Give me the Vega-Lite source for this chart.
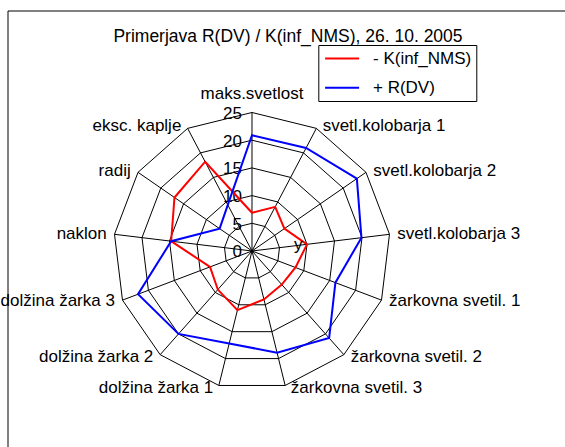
{
  "$schema": "https://vega.github.io/schema/vega-lite/v6.json",
  "width": 557,
  "height": 436,
  "autosize": {"type": "none"},
  "padding": {"left": 8, "top": 11, "right": 0, "bottom": 0},
  "background": "white",
  "config": {"view": {"stroke": null}, "font": "Liberation Sans"},
  "title": {
    "text": "Primerjava R(DV) / K(inf_NMS), 26. 10. 2005",
    "font": "Liberation Sans",
    "fontSize": 17.5,
    "fontWeight": "normal",
    "color": "black",
    "anchor": "middle",
    "baseline": "middle",
    "offset": -25,
    "dy": 19,
    "dx": 1.5
  },
  "datasets": {
    "cats": [
      {"i": 0, "cat": "maks.svetlost", "ring": [5, 10, 15, 20, 25]},
      {"i": 1, "cat": "svetl.kolobarja 1", "ring": [5, 10, 15, 20, 25]},
      {"i": 2, "cat": "svetl.kolobarja 2", "ring": [5, 10, 15, 20, 25]},
      {"i": 3, "cat": "svetl.kolobarja 3", "ring": [5, 10, 15, 20, 25]},
      {"i": 4, "cat": "žarkovna svetil. 1", "ring": [5, 10, 15, 20, 25]},
      {"i": 5, "cat": "žarkovna svetil. 2", "ring": [5, 10, 15, 20, 25]},
      {"i": 6, "cat": "žarkovna svetil. 3", "ring": [5, 10, 15, 20, 25]},
      {"i": 7, "cat": "dolžina žarka 1", "ring": [5, 10, 15, 20, 25]},
      {"i": 8, "cat": "dolžina žarka 2", "ring": [5, 10, 15, 20, 25]},
      {"i": 9, "cat": "dolžina žarka 3", "ring": [5, 10, 15, 20, 25]},
      {"i": 10, "cat": "naklon", "ring": [5, 10, 15, 20, 25]},
      {"i": 11, "cat": "radij", "ring": [5, 10, 15, 20, 25]},
      {"i": 12, "cat": "eksc. kaplje", "ring": [5, 10, 15, 20, 25]}
    ],
    "radar": [
      {"i": 0, "series": "- K(inf_NMS)", "v": 6.9},
      {"i": 1, "series": "- K(inf_NMS)", "v": 9.0},
      {"i": 2, "series": "- K(inf_NMS)", "v": 7.1},
      {"i": 3, "series": "- K(inf_NMS)", "v": 10.0},
      {"i": 4, "series": "- K(inf_NMS)", "v": 8.4},
      {"i": 5, "series": "- K(inf_NMS)", "v": 8.1},
      {"i": 6, "series": "- K(inf_NMS)", "v": 9.0},
      {"i": 7, "series": "- K(inf_NMS)", "v": 11.0},
      {"i": 8, "series": "- K(inf_NMS)", "v": 9.3},
      {"i": 9, "series": "- K(inf_NMS)", "v": 8.1},
      {"i": 10, "series": "- K(inf_NMS)", "v": 14.7},
      {"i": 11, "series": "- K(inf_NMS)", "v": 17.0},
      {"i": 12, "series": "- K(inf_NMS)", "v": 18.2},
      {"i": 0, "series": "+ R(DV)", "v": 20.9},
      {"i": 1, "series": "+ R(DV)", "v": 21.0},
      {"i": 2, "series": "+ R(DV)", "v": 23.0},
      {"i": 3, "series": "+ R(DV)", "v": 19.9},
      {"i": 4, "series": "+ R(DV)", "v": 16.1},
      {"i": 5, "series": "+ R(DV)", "v": 21.0},
      {"i": 6, "series": "+ R(DV)", "v": 18.9},
      {"i": 7, "series": "+ R(DV)", "v": 17.2},
      {"i": 8, "series": "+ R(DV)", "v": 20.0},
      {"i": 9, "series": "+ R(DV)", "v": 22.0},
      {"i": 10, "series": "+ R(DV)", "v": 14.7},
      {"i": 11, "series": "+ R(DV)", "v": 7.1},
      {"i": 12, "series": "+ R(DV)", "v": 9.4}
    ],
    "ticks": [{"t": 0}, {"t": 5}, {"t": 10}, {"t": 15}, {"t": 20}, {"t": 25}],
    "notes": [{"i": 3, "v": 8.4, "t": "y"}]
  },
  "layer": [
    {
      "data": {"values": [{}]},
      "mark": {"type": "rule", "color": "black", "strokeWidth": 1},
      "encoding": {
        "x": {"datum": -44.043, "type": "quantitative", "scale": {"domain": [-44.043, 56.498], "nice": false, "zero": false}, "axis": null}
      }
    },
    {
      "data": {"values": [{}]},
      "mark": {"type": "rule", "color": "black", "strokeWidth": 1},
      "encoding": {
        "y": {"datum": 43.321, "type": "quantitative", "scale": {"domain": [-35.379, 43.321], "nice": false, "zero": false}, "axis": null}
      }
    },
    {
      "data": {"name": "cats"},
      "transform": [
        {"calculate": "datum.i * 2 * PI / 13", "as": "a"},
        {"calculate": "25 * sin(datum.a)", "as": "sx"},
        {"calculate": "25 * cos(datum.a)", "as": "sy"}
      ],
      "mark": {"type": "rule", "color": "black", "strokeWidth": 1},
      "encoding": {
        "x": {"field": "sx", "type": "quantitative", "scale": {"domain": [-44.043, 56.498], "nice": false, "zero": false}, "axis": null},
        "y": {"field": "sy", "type": "quantitative", "scale": {"domain": [-35.379, 43.321], "nice": false, "zero": false}, "axis": null},
        "x2": {"datum": 0},
        "y2": {"datum": 0}
      }
    },
    {
      "data": {"name": "cats"},
      "transform": [
        {"flatten": ["ring"]},
        {"calculate": "datum.i * 2 * PI / 13", "as": "a"},
        {"calculate": "datum.ring * sin(datum.a)", "as": "rx"},
        {"calculate": "datum.ring * cos(datum.a)", "as": "ry"}
      ],
      "mark": {"type": "line", "interpolate": "linear-closed", "color": "black", "strokeWidth": 1},
      "encoding": {
        "x": {"field": "rx", "type": "quantitative", "scale": {"domain": [-44.043, 56.498], "nice": false, "zero": false}, "axis": null},
        "y": {"field": "ry", "type": "quantitative", "scale": {"domain": [-35.379, 43.321], "nice": false, "zero": false}, "axis": null},
        "detail": {"field": "ring", "type": "nominal"},
        "order": {"field": "i", "type": "quantitative"}
      }
    },
    {
      "data": {"name": "ticks"},
      "mark": {"type": "text", "align": "right", "baseline": "middle", "dx": -10, "dy": 1.5, "fontSize": 17, "font": "Liberation Sans", "color": "black"},
      "encoding": {
        "x": {"datum": 0, "type": "quantitative", "scale": {"domain": [-44.043, 56.498], "nice": false, "zero": false}, "axis": null},
        "y": {"field": "t", "type": "quantitative", "scale": {"domain": [-35.379, 43.321], "nice": false, "zero": false}, "axis": null},
        "text": {"field": "t", "type": "quantitative"}
      }
    },
    {
      "data": {"name": "radar"},
      "transform": [
        {"calculate": "datum.i * 2 * PI / 13", "as": "a"},
        {"calculate": "datum.v * sin(datum.a)", "as": "px"},
        {"calculate": "datum.v * cos(datum.a)", "as": "py"}
      ],
      "mark": {"type": "line", "interpolate": "linear-closed", "strokeWidth": 2},
      "encoding": {
        "x": {"field": "px", "type": "quantitative", "scale": {"domain": [-44.043, 56.498], "nice": false, "zero": false}, "axis": null},
        "y": {"field": "py", "type": "quantitative", "scale": {"domain": [-35.379, 43.321], "nice": false, "zero": false}, "axis": null},
        "order": {"field": "i", "type": "quantitative"},
        "color": {
          "field": "series",
          "type": "nominal",
          "scale": {"domain": ["- K(inf_NMS)", "+ R(DV)"], "range": ["#ff0000", "#0000ff"]},
          "legend": {
            "title": null,
            "orient": "none",
            "legendX": 310.3,
            "legendY": 34,
            "direction": "vertical",
            "strokeColor": "black",
            "fillColor": "white",
            "padding": 5,
            "cornerRadius": 0,
            "symbolType": "M-2.2667,0H2.2667",
            "symbolSize": 225,
            "symbolStrokeWidth": 2,
            "symbolOffset": 10.3,
            "labelOffset": 22.4,
            "labelFont": "Liberation Sans",
            "labelFontSize": 17,
            "labelColor": "black",
            "rowPadding": 11.3
          }
        }
      }
    },
    {
      "data": {"name": "cats"},
      "transform": [
        {"filter": "datum.i == 0"},
        {"calculate": "datum.i * 2 * PI / 13", "as": "a"},
        {"calculate": "25 * sin(datum.a)", "as": "lx"},
        {"calculate": "25 * cos(datum.a)", "as": "ly"}
      ],
      "mark": {"type": "text", "align": "center", "baseline": "middle", "dy": -18, "fontSize": 17, "font": "Liberation Sans", "color": "black"},
      "encoding": {
        "x": {"field": "lx", "type": "quantitative", "scale": {"domain": [-44.043, 56.498], "nice": false, "zero": false}, "axis": null},
        "y": {"field": "ly", "type": "quantitative", "scale": {"domain": [-35.379, 43.321], "nice": false, "zero": false}, "axis": null},
        "text": {"field": "cat", "type": "nominal"}
      }
    },
    {
      "data": {"name": "cats"},
      "transform": [
        {"filter": "datum.i >= 1 && datum.i <= 6"},
        {"calculate": "datum.i * 2 * PI / 13", "as": "a"},
        {"calculate": "25.5 * sin(datum.a)", "as": "lx"},
        {"calculate": "25.5 * cos(datum.a)", "as": "ly"}
      ],
      "mark": {"type": "text", "align": "left", "baseline": "middle", "dx": 5, "fontSize": 17, "font": "Liberation Sans", "color": "black"},
      "encoding": {
        "x": {"field": "lx", "type": "quantitative", "scale": {"domain": [-44.043, 56.498], "nice": false, "zero": false}, "axis": null},
        "y": {"field": "ly", "type": "quantitative", "scale": {"domain": [-35.379, 43.321], "nice": false, "zero": false}, "axis": null},
        "text": {"field": "cat", "type": "nominal"}
      }
    },
    {
      "data": {"name": "cats"},
      "transform": [
        {"filter": "datum.i >= 7"},
        {"calculate": "datum.i * 2 * PI / 13", "as": "a"},
        {"calculate": "25.5 * sin(datum.a)", "as": "lx"},
        {"calculate": "25.5 * cos(datum.a)", "as": "ly"}
      ],
      "mark": {"type": "text", "align": "right", "baseline": "middle", "dx": -5, "fontSize": 17, "font": "Liberation Sans", "color": "black"},
      "encoding": {
        "x": {"field": "lx", "type": "quantitative", "scale": {"domain": [-44.043, 56.498], "nice": false, "zero": false}, "axis": null},
        "y": {"field": "ly", "type": "quantitative", "scale": {"domain": [-35.379, 43.321], "nice": false, "zero": false}, "axis": null},
        "text": {"field": "cat", "type": "nominal"}
      }
    },
    {
      "data": {"name": "notes"},
      "transform": [
        {"calculate": "datum.i * 2 * PI / 13", "as": "a"},
        {"calculate": "datum.v * sin(datum.a)", "as": "nx"},
        {"calculate": "datum.v * cos(datum.a)", "as": "ny"}
      ],
      "mark": {"type": "text", "align": "center", "baseline": "middle", "fontSize": 17, "font": "Liberation Sans", "color": "black"},
      "encoding": {
        "x": {"field": "nx", "type": "quantitative", "scale": {"domain": [-44.043, 56.498], "nice": false, "zero": false}, "axis": null},
        "y": {"field": "ny", "type": "quantitative", "scale": {"domain": [-35.379, 43.321], "nice": false, "zero": false}, "axis": null},
        "text": {"field": "t", "type": "nominal"}
      }
    }
  ]
}
